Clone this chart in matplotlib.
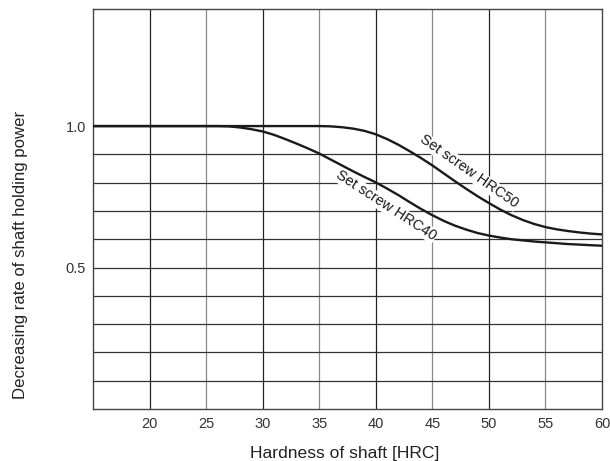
import matplotlib
matplotlib.use("Agg")
import matplotlib.pyplot as plt

plt.rcParams['font.family'] = ['Liberation Sans', 'DejaVu Sans']

hrc40_x = [15, 20, 26, 27, 28, 29, 30, 31, 32, 33, 34, 35, 36, 37, 38, 39, 40, 41, 42, 43, 44, 45,
           46, 47, 48, 49, 50, 51, 52, 53, 54, 55, 56, 57, 58, 59, 60]
hrc40_y = [1.0, 1.0, 1.0, 0.999, 0.995, 0.989, 0.981, 0.969, 0.954, 0.938, 0.921, 0.903, 0.882, 0.861,
           0.840, 0.820, 0.801, 0.779, 0.756, 0.731, 0.707, 0.685, 0.665, 0.648, 0.634, 0.622, 0.613,
           0.606, 0.600, 0.596, 0.592, 0.589, 0.586, 0.583, 0.581, 0.579, 0.577]
hrc50_x = [15, 20, 25, 30, 35, 36, 37, 38, 39, 40, 41, 42, 43, 44, 45, 46, 47, 48, 49, 50,
           51, 52, 53, 54, 55, 56, 57, 58, 59, 60]
hrc50_y = [1.0, 1.0, 1.0, 1.0, 1.0, 0.999, 0.996, 0.991, 0.983, 0.971, 0.954, 0.934, 0.911, 0.887,
           0.861, 0.833, 0.805, 0.778, 0.752, 0.728, 0.705, 0.685, 0.668, 0.654, 0.643, 0.635,
           0.629, 0.624, 0.620, 0.617]

x_ticks = [20, 25, 30, 35, 40, 45, 50, 55, 60]
x_grid = [20, 25, 30, 35, 40, 45, 50, 55]
y_ticks = [0.5, 1.0]
y_tick_labels = ["0.5", "1.0"]
y_grid = [0.1, 0.2, 0.3, 0.4, 0.5, 0.6, 0.7, 0.8, 0.9]

fig = plt.figure(figsize=(6.10, 4.61), dpi=100)
ax = fig.add_axes([93/610, 1 - 409/461, (602-93)/610, (409-9.5)/461])
ax.set_xlim(15, 60)
ax.set_ylim(0, 1.412)

for xv in x_grid:
    ax.axvline(xv, color='#222222' if xv % 10 == 0 else '#888888', lw=0.9, zorder=1)
for yv in y_grid:
    ax.axhline(yv, color='#333333', lw=0.9, zorder=1)

ax.plot(hrc40_x, hrc40_y, color='#1a1a1a', lw=1.7, zorder=3, solid_capstyle='butt', solid_joinstyle='round')
ax.plot(hrc50_x, hrc50_y, color='#1a1a1a', lw=1.7, zorder=3, solid_capstyle='butt', solid_joinstyle='round')

bbox = dict(boxstyle='square,pad=0.05', fc='white', ec='none')
ax.text(48.25, 0.839, "Set screw HRC50", rotation=-35, ha='center', va='center',
        fontsize=10.5, color='#1a1a1a', bbox=bbox, zorder=4, rotation_mode='anchor')
ax.text(40.9, 0.719, "Set screw HRC40", rotation=-33, ha='center', va='center',
        fontsize=10.5, color='#1a1a1a', bbox=bbox, zorder=4, rotation_mode='anchor')

ax.set_xticks(x_ticks)
ax.set_xticklabels([str(v) for v in x_ticks])
ax.set_yticks(y_ticks)
ax.set_yticklabels(y_tick_labels)
ax.tick_params(length=0, labelsize=10.5, colors='#333333', pad=6)
ax.tick_params(axis='y', pad=5)
for s in ax.spines.values():
    s.set_color('#444444')
    s.set_linewidth(1.0)

fig.text(345/610, 1 - 458/461, "Hardness of shaft [HRC]", ha='center', va='baseline',
         fontsize=12.6, color='#222222')
fig.text(25/610, 1 - 254.5/461, "Decreasing rate of shaft holding power", ha='center', va='baseline',
         rotation=90, rotation_mode='anchor', fontsize=12.1, color='#222222')

fig.savefig("out.png", dpi=100)
